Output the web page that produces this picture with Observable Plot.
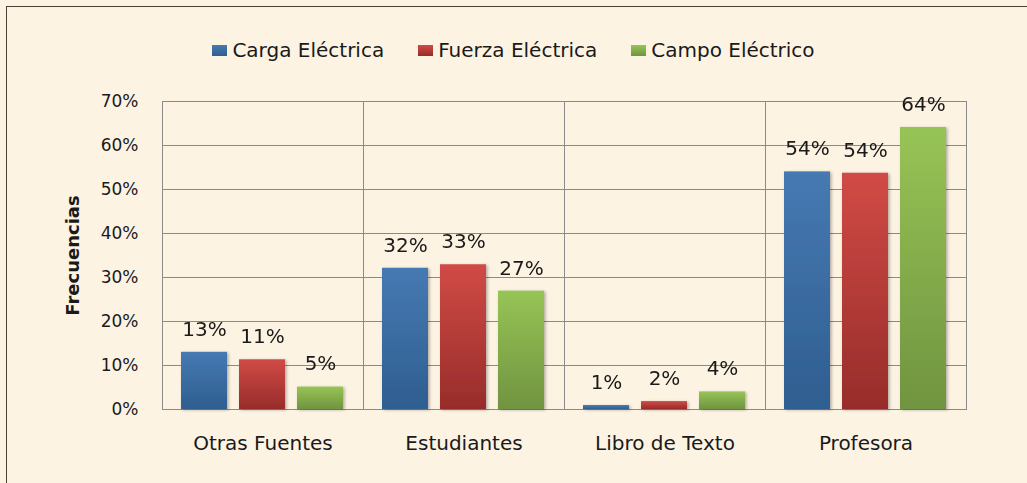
<!DOCTYPE html>
<html>
<head>
<meta charset="utf-8">
<script src="https://cdn.jsdelivr.net/npm/d3@7"></script>
<script src="https://cdn.jsdelivr.net/npm/@observablehq/plot@0.6"></script>
<style>
  html, body { margin: 0; padding: 0; background: #fdf3e3; overflow: hidden; }
  #wrap { position: relative; width: 1027px; height: 483px; background: #fdf3e3; font-family: "DejaVu Sans", sans-serif; }
  #border { position: absolute; left: 6px; top: 6px; width: 1100px; height: 600px; border-left: 1.5px solid #4e4039; border-top: 1.5px solid #4e4039; }
  #legend { position: absolute; left: 0; top: 38px; width: 1027px; display: flex; justify-content: center; align-items: center; font-size: 20px; color: #1a1a1a; }
  #legend .item { display: flex; align-items: center; margin: 0 17px; }
  #legend .sw { width: 15px; height: 11px; margin-right: 5px; }
  #chart { position: absolute; left: 0; top: 80px; }
  #chart svg { overflow: visible; }
  [aria-label="fx-axis tick label"] text { font-size: 20px; }
  [aria-label="y-axis label"] text, [aria-label="y-axis label"] { font-size: 18px; font-weight: bold; }
</style>
</head>
<body>
<div id="wrap">
  <div id="border"></div>
  <div id="legend"></div>
  <div id="chart"></div>
</div>
<script>
const categories = ["Otras Fuentes", "Estudiantes", "Libro de Texto", "Profesora"];
const series = ["Carga Eléctrica", "Fuerza Eléctrica", "Campo Eléctrico"];
const cargaElectrica = [13, 32.1, 0.9, 54];
const fuerzaElectrica = [11.3, 32.9, 1.8, 53.7];
const campoElectrico = [5.1, 26.9, 4.0, 64.1];
const yTicks = [0, 10, 20, 30, 40, 50, 60, 70];
const gradientStops = [
  ["#4679b2", "#2f5e90"],
  ["#d14b46", "#972c2a"],
  ["#97c456", "#709440"]
];

const valuesBySeries = [cargaElectrica, fuerzaElectrica, campoElectrico];
const data = [];
categories.forEach((c, i) => {
  series.forEach((s, j) => {
    data.push({category: c, series: s, value: valuesBySeries[j][i]});
  });
});

// legend
const legend = document.getElementById("legend");
series.forEach((s, j) => {
  const item = document.createElement("div");
  item.className = "item";
  const sw = document.createElement("div");
  sw.className = "sw";
  sw.style.background = `linear-gradient(${gradientStops[j][0]}, ${gradientStops[j][1]})`;
  const lab = document.createElement("span");
  lab.textContent = s;
  item.appendChild(sw);
  item.appendChild(lab);
  legend.appendChild(item);
});

const gradIds = ["gBlue", "gRed", "gGreen"];

const chart = Plot.plot({
  width: 1027,
  height: 403,
  marginTop: 21,
  marginBottom: 74,
  marginLeft: 161,
  marginRight: 60,
  style: {fontFamily: "DejaVu Sans, sans-serif", fontSize: "17px", color: "#1a1a1a", background: "transparent"},
  fx: {domain: categories, paddingInner: 0, paddingOuter: 0, label: null, tickSize: 0, tickPadding: 26, axis: "bottom"},
  x: {domain: series, paddingInner: 0.203, paddingOuter: 0.314, axis: null},
  y: {domain: [0, 70], ticks: yTicks, tickFormat: d => d + "%", tickSize: 0, tickPadding: 24,
      label: "Frecuencias", labelArrow: false, labelAnchor: "center", labelOffset: 96},
  color: {domain: series, range: gradIds.map(id => `url(#${id})`)},
  marks: [
    Plot.ruleY(yTicks, {stroke: "#8a8a8a", strokeWidth: 1}),
    Plot.frame({stroke: "#8a8a8a", strokeWidth: 1}),
    Plot.barY(data, {fx: "category", x: "series", y: "value", fill: "series"}),
    Plot.text(data, {fx: "category", x: "series", y: "value", text: d => Math.round(d.value) + "%",
      dy: -23, fontSize: 20, fill: "#1a1a1a"})
  ]
});

// gradients and shadow
const svg = d3.select(chart);
const defs = svg.insert("defs", ":first-child");
gradIds.forEach((id, j) => {
  const g = defs.append("linearGradient").attr("id", id).attr("x1", 0).attr("y1", 0).attr("x2", 0).attr("y2", 1);
  g.append("stop").attr("offset", "0%").attr("stop-color", gradientStops[j][0]);
  g.append("stop").attr("offset", "100%").attr("stop-color", gradientStops[j][1]);
});
const f = defs.append("filter").attr("id", "shadow").attr("x", "-20%").attr("y", "-20%").attr("width", "150%").attr("height", "150%");
f.append("feDropShadow").attr("dx", 1.5).attr("dy", 1).attr("stdDeviation", 1.5).attr("flood-color", "#000").attr("flood-opacity", 0.3);
svg.selectAll('[aria-label="bar"]').attr("filter", "url(#shadow)");

document.getElementById("chart").appendChild(chart);
</script>
</body>
</html>
